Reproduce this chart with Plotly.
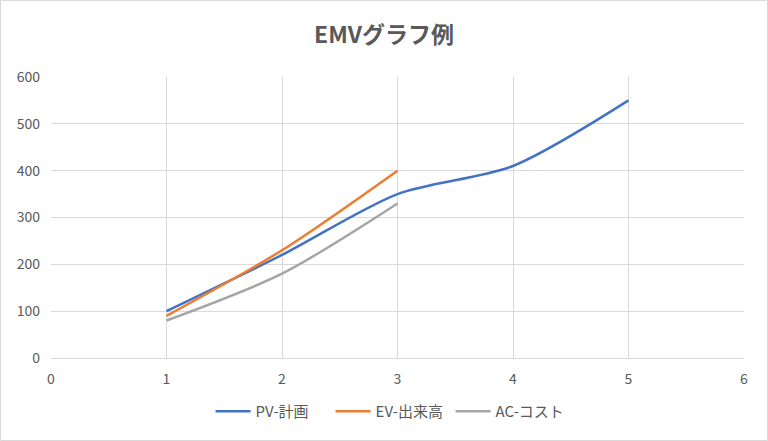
import plotly.graph_objects as go

pv_x = [1, 2, 3, 4, 5]
pv_y = [100, 220, 350, 410, 550]
ev_x = [1, 2, 3]
ev_y = [90, 230, 400]
ac_x = [1, 2, 3]
ac_y = [80, 180, 330]

fig = go.Figure()
fig.add_trace(go.Scatter(x=pv_x, y=pv_y, mode="lines", name="PV-計画",
                         line=dict(color="#4472C4", width=2.5, shape="spline", smoothing=0.8)))
fig.add_trace(go.Scatter(x=ev_x, y=ev_y, mode="lines", name="EV-出来高",
                         line=dict(color="#ED7D31", width=2.5, shape="spline", smoothing=0.8)))
fig.add_trace(go.Scatter(x=ac_x, y=ac_y, mode="lines", name="AC-コスト",
                         line=dict(color="#A5A5A5", width=2.5, shape="spline", smoothing=0.8)))

font_family = "Noto Sans CJK JP, Noto Sans, sans-serif"
fig.update_layout(
    width=768, height=441,
    paper_bgcolor="white", plot_bgcolor="white",
    margin=dict(l=51, r=24, t=77, b=83),
    font=dict(family=font_family, color="#595959", size=14),
    title=dict(text="<b>EMVグラフ例</b>", x=0.5, xanchor="center", y=0.92, yanchor="middle",
               font=dict(size=23, color="#595959", family=font_family)),
    xaxis=dict(range=[0, 6], dtick=1, showgrid=True, gridcolor="#D9D9D9", gridwidth=1,
               zeroline=False, showline=True, linecolor="#D9D9D9", ticks="",
               ticklabelstandoff=8,
               tickfont=dict(size=14, color="#595959")),
    yaxis=dict(range=[0, 600], dtick=100, showgrid=True, gridcolor="#D9D9D9", gridwidth=1,
               zeroline=False, showline=False, ticks="",
               ticklabelstandoff=10,
               tickfont=dict(size=14, color="#595959")),
    legend=dict(orientation="h", x=0.49, xanchor="center", y=-0.19, yanchor="middle",
                entrywidth=70, itemwidth=35,
                font=dict(size=15, color="#595959")),
    shapes=[dict(type="rect", xref="paper", yref="paper", x0=-50.5/693, x1=1+23.5/693,
                 y0=-82.5/281, y1=1+76.5/281, line=dict(color="#D9D9D9", width=1))],
)

fig.write_html("out.html", config={"displayModeBar": False},
               post_script="document.body.style.margin='0';document.body.style.padding='0';")
